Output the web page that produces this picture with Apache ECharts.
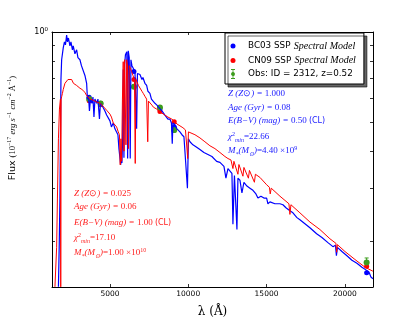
<!DOCTYPE html>
<html>
<head>
<meta charset="utf-8">
<script src="https://cdn.jsdelivr.net/npm/echarts@6/dist/echarts.min.js"></script>
<style>
html, body { margin: 0; padding: 0; background: #fff; }
#main { width: 415px; height: 323px; }
</style>
</head>
<body>
<div id="main"></div>
<script>
/*----------------------------- data -----------------------------*/
// BC03 SSP model spectrum (wavelength in A, flux)
var blueWave = [1711, 1762, 1807, 1839, 1871, 1916, 2018, 2095, 2159, 2235, 2286, 2350, 2446, 2510, 2605, 2656, 2765, 2873, 2956, 3084,
    3180, 3295, 3403, 3512, 3563, 3627, 3691, 3755, 3851, 3915, 3979, 4042, 4151, 4234, 4330, 4393, 4489, 4553, 4681, 4789,
    4872, 5000, 5096, 5211, 5319, 5428, 5511, 5575, 5639, 5684, 5722, 5766, 5811, 5849, 5894, 5939, 5990, 6079, 6130, 6169,
    6232, 6296, 6341, 6405, 6488, 6597, 6705, 6756, 6916, 7044, 7107, 7235, 7344, 7427, 7554, 7650, 7746, 7874, 8002, 8098,
    8193, 8321, 8404, 8512, 8621, 8704, 8832, 8928, 8979, 9023, 9151, 9279, 9470, 9598, 9726, 9853, 9949, 10013, 10109, 10300,
    10492, 10747, 11002, 11258, 11513, 11814, 12025, 12281, 12408, 12536, 12663, 12791, 12855, 12951, 13111, 13174, 13302, 13430, 13557, 13749,
    13940, 14132, 14324, 14451, 14643, 14834, 15007, 15090, 15218, 15537, 15857, 16048, 16240, 16495, 16687, 16943, 17133, 17453, 17772, 18200,
    18539, 18922, 19241, 19400, 19464, 19528, 19816, 20135, 20454, 20773, 21093, 21393, 21540, 21668, 21795];
var blueFlux = [0.141, 0.195, 0.279, 0.440, 0.694, 0.808, 0.885, 0.927, 0.906, 0.977, 0.927, 0.955, 0.899, 0.927, 0.872, 0.899, 0.846, 0.872, 0.821, 0.808,
    0.772, 0.761, 0.716, 0.674, 0.597, 0.615, 0.545, 0.597, 0.578, 0.606, 0.520, 0.597, 0.578, 0.597, 0.512, 0.578, 0.570, 0.561, 0.545, 0.528,
    0.520, 0.505, 0.482, 0.497, 0.475, 0.475, 0.454, 0.408, 0.380, 0.360, 0.400, 0.365, 0.440, 0.749, 0.380, 0.778, 0.840, 0.859, 0.378, 0.866,
    0.821, 0.378, 0.808, 0.772, 0.761, 0.738, 0.475, 0.727, 0.721, 0.694, 0.705, 0.674, 0.663, 0.634, 0.624, 0.597, 0.606, 0.578, 0.570, 0.561,
    0.561, 0.545, 0.553, 0.528, 0.520, 0.512, 0.512, 0.497, 0.424, 0.497, 0.490, 0.475, 0.464, 0.454, 0.447, 0.447, 0.301, 0.440, 0.430, 0.420,
    0.414, 0.405, 0.396, 0.390, 0.384, 0.370, 0.367, 0.356, 0.325, 0.350, 0.345, 0.337, 0.228, 0.332, 0.219, 0.325, 0.320, 0.290, 0.315, 0.306,
    0.301, 0.296, 0.288, 0.279, 0.283, 0.279, 0.279, 0.267, 0.271, 0.267, 0.267, 0.265, 0.259, 0.253, 0.249, 0.240, 0.236, 0.229, 0.222, 0.212,
    0.206, 0.198, 0.192, 0.194, 0.179, 0.191, 0.185, 0.179, 0.173, 0.169, 0.164, 0.160, 0.158, 0.152, 0.150];

// CN09 SSP model spectrum
var redWave = [1488, 1596, 1647, 1711, 1775, 1839, 1858, 1884, 1916, 1967, 2018, 2127, 2235, 2318, 2414, 2554, 2669, 2765, 2873, 2988,
    3084, 3212, 3295, 3403, 3499, 3614, 3723, 3819, 3934, 4042, 4170, 4266, 4361, 4489, 4617, 4789, 4904, 5000, 5096, 5211,
    5319, 5428, 5530, 5607, 5658, 5703, 5747, 5798, 5849, 5894, 5939, 5990, 6022, 6066, 6118, 6181, 6232, 6309, 6386, 6469,
    6565, 6616, 6660, 6705, 6820, 6916, 7044, 7127, 7235, 7344, 7414, 7459, 7554, 7682, 7778, 7874, 7982, 8098, 8193, 8321,
    8404, 8512, 8621, 8704, 8832, 8959, 9023, 9151, 9279, 9470, 9662, 9822, 9936, 9968, 10013, 10109, 10428, 10747, 11066, 11386,
    11705, 12025, 12344, 12536, 12727, 12855, 12919, 13174, 13238, 13493, 13557, 13844, 13908, 14227, 14291, 14579, 15007, 15186, 15237, 15301,
    15857, 16431, 16495, 16559, 17133, 17772, 18411, 19049, 19432, 19477, 19528, 20007, 20645, 21284, 21795];
var redFlux = [0.141, 0.191, 0.279, 0.440, 0.553, 0.597, 0.141, 0.597, 0.608, 0.624, 0.643, 0.674, 0.684, 0.694, 0.684, 0.694, 0.674, 0.684, 0.663, 0.663,
    0.649, 0.643, 0.634, 0.629, 0.615, 0.606, 0.597, 0.597, 0.592, 0.583, 0.583, 0.578, 0.578, 0.570, 0.561, 0.548, 0.540, 0.532, 0.520, 0.497,
    0.490, 0.482, 0.464, 0.454, 0.360, 0.440, 0.370, 0.597, 0.796, 0.400, 0.808, 0.796, 0.420, 0.808, 0.784, 0.408, 0.772, 0.761, 0.738, 0.716,
    0.694, 0.364, 0.694, 0.684, 0.663, 0.653, 0.634, 0.624, 0.610, 0.597, 0.430, 0.588, 0.583, 0.570, 0.561, 0.557, 0.553, 0.548, 0.540, 0.536,
    0.532, 0.528, 0.524, 0.520, 0.516, 0.512, 0.509, 0.501, 0.493, 0.486, 0.479, 0.471, 0.468, 0.378, 0.464, 0.461, 0.454, 0.443, 0.430, 0.417,
    0.408, 0.396, 0.384, 0.378, 0.374, 0.350, 0.370, 0.335, 0.361, 0.330, 0.353, 0.325, 0.345, 0.315, 0.335, 0.327, 0.309, 0.303, 0.288, 0.301,
    0.283, 0.267, 0.246, 0.265, 0.249, 0.232, 0.219, 0.204, 0.197, 0.184, 0.195, 0.185, 0.174, 0.164, 0.159];

// photometry: observed (with errors) and model fluxes
var obsWave = [3672, 4406, 6533, 8193, 9106, 21393];
var obsFlux = [0.597, 0.577, 0.657, 0.560, 0.471, 0.170];
var obsErr  = [0.008, 0.008, 0.008, 0.008, 0.008, 0.006];
var bcPhot  = [0.606, 0.578, 0.738, 0.553, 0.482, 0.157];
var cnPhot  = [0.590, 0.572, 0.694, 0.543, 0.502, 0.165];

var xTicks = [5000, 10000, 15000, 20000];
var yTicks = [0.2, 0.3, 0.4, 0.5, 0.6, 0.7, 0.8, 0.9, 1];

function zip(a, b) {
    var out = [];
    for (var i = 0; i < a.length; i++) out.push([a[i], b[i]]);
    return out;
}

var errData = [];
for (var i = 0; i < obsWave.length; i++) {
    errData.push([obsWave[i], obsFlux[i] - obsErr[i], obsFlux[i] + obsErr[i]]);
}

/*----------------------------- text blocks -----------------------------*/
var SERIF = 'Liberation Serif';
var SANS = 'DejaVu Sans';

function richSet(color) {
    return {
        i: { fontFamily: SERIF, fontStyle: 'italic', fontSize: 9, lineHeight: 12, fill: color },
        r: { fontFamily: SERIF, fontSize: 9, lineHeight: 12, fill: color },
        c: { fontFamily: SANS, fontSize: 8, lineHeight: 12, fill: color },
        s: { fontFamily: SERIF, fontSize: 6, verticalAlign: 'top', lineHeight: 12, fill: color },
        u: { fontFamily: SERIF, fontStyle: 'italic', fontSize: 6, verticalAlign: 'bottom', lineHeight: 12, fill: color }
    };
}

function textBlock(x, ys, lines, color) {
    var els = [];
    for (var k = 0; k < lines.length; k++) {
        els.push({
            type: 'text',
            x: x,
            y: ys[k],
            z: 10,
            style: {
                text: lines[k],
                verticalAlign: 'middle',
                rich: richSet(color)
            }
        });
    }
    return els;
}

var blueLines = [
    '{i|Z (Z}{r|⊙}{i|) = }{r|1.000}',
    '{i|Age (Gyr) = }{r|0.08}',
    '{i|E(B−V) (mag) = }{r|0.50 }{c|(CL)}',
    '{i|χ}{s|2}{u|min}{r|=22.66}',
    '{i|M}{u|*}{i|(M}{u|⊙}{i|)}{r|=4.40 ×10}{s|9}'
];
var redLines = [
    '{i|Z (Z}{r|⊙}{i|) = }{r|0.025}',
    '{i|Age (Gyr) = }{r|0.06}',
    '{i|E(B−V) (mag) = }{r|1.00 }{c|(CL)}',
    '{i|χ}{s|2}{u|min}{r|=17.10}',
    '{i|M}{u|*}{i|(M}{u|⊙}{i|)}{r|=1.00 ×10}{s|10}'
];

var graphics = []
    .concat(textBlock(228, [94, 108, 121, 137, 151], blueLines, '#2020ff'))
    .concat(textBlock(74, [194, 207, 223, 238, 253], redLines, '#ff2020'));

// y axis title, rotated
graphics.push({
    type: 'text',
    x: 13,
    y: 128,
    rotation: Math.PI / 2,
    style: {
        text: '{f|Flux }{r|(10}{s|−17}{i| erg s}{s|−1}{i| cm}{s|−2}{r| Å}{s|−1}{r|)}',
        align: 'center',
        verticalAlign: 'middle',
        rich: {
            f: { fontFamily: SANS, fontSize: 9.5, lineHeight: 13, fill: '#000' },
            r: { fontFamily: SERIF, fontSize: 8.5, lineHeight: 13, fill: '#000' },
            i: { fontFamily: SERIF, fontStyle: 'italic', fontSize: 8.5, lineHeight: 13, fill: '#000' },
            s: { fontFamily: SERIF, fontSize: 6, verticalAlign: 'top', lineHeight: 13, fill: '#000' }
        }
    }
});

/*----------------------------- chart -----------------------------*/
var myChart = echarts.init(document.getElementById('main'));

var tickStyle = { inside: true, length: 3, lineStyle: { color: '#000', width: 0.8 } };
var lineStyleAxis = { show: true, onZero: false, lineStyle: { color: '#000', width: 1 } };

var option = {
    animation: false,
    backgroundColor: '#fff',
    grid: { left: 52, right: 42, top: 32, bottom: 33 },
    legend: {
        orient: 'vertical',
        left: 225,
        top: 33,
        padding: [7, 8, 5, 3],
        itemWidth: 20,
        itemHeight: 10,
        itemGap: 2.5,
        backgroundColor: '#fff',
        borderColor: '#000',
        borderWidth: 1,
        borderRadius: 0,
        shadowColor: 'rgba(0,0,0,0.6)',
        shadowOffsetX: 3,
        shadowOffsetY: 3,
        shadowBlur: 0,
        data: [
            { name: 'BC03', icon: 'path://M0,0M10,10M7.5,5A2.5,2.5,0,1,1,2.5,5A2.5,2.5,0,1,1,7.5,5Z' },
            { name: 'CN09', icon: 'path://M0,0M10,10M7.5,5A2.5,2.5,0,1,1,2.5,5A2.5,2.5,0,1,1,7.5,5Z' },
            { name: 'Obs', icon: 'path://M3,0H7V1H5.4V2.9A2.2,2.2,0,0,1,5.4,7.1V9H7V10H3V9H4.6V7.1A2.2,2.2,0,0,1,4.6,2.9V1H3Z' }
        ],
        formatter: function (name) {
            if (name === 'BC03') return '{s|BC03 SSP} {i|Spectral Model}';
            if (name === 'CN09') return '{s|CN09 SSP} {i|Spectral Model}';
            return '{s|Obs: ID = 2312, z=0.52}';
        },
        textStyle: {
            rich: {
                s: { fontFamily: SANS, fontSize: 8.8, color: '#000', lineHeight: 10 },
                i: { fontFamily: SERIF, fontStyle: 'italic', fontSize: 10, color: '#000', lineHeight: 10 }
            }
        }
    },
    xAxis: [
        {
            type: 'value',
            min: 1300,
            max: 21800,
            position: 'bottom',
            name: 'λ (Å)',
            nameLocation: 'middle',
            nameGap: 19,
            nameTextStyle: { fontFamily: 'DejaVu Serif', fontSize: 12, color: '#000' },
            axisLine: lineStyleAxis,
            axisTick: echarts.util.extend({ customValues: xTicks }, tickStyle),
            axisLabel: {
                customValues: xTicks,
                fontFamily: SANS,
                fontSize: 7.5,
                color: '#000',
                margin: 3,
                formatter: function (v) { return String(v); }
            },
            splitLine: { show: false }
        },
        {
            type: 'value',
            min: 1300,
            max: 21800,
            position: 'top',
            axisLine: lineStyleAxis,
            axisTick: echarts.util.extend({ customValues: xTicks }, tickStyle),
            axisLabel: { show: false },
            splitLine: { show: false }
        }
    ],
    yAxis: [
        {
            type: 'log',
            logBase: 10,
            min: 0.1408,
            max: 1,
            position: 'left',
            axisLine: lineStyleAxis,
            axisTick: echarts.util.extend({ customValues: yTicks }, tickStyle),
            axisLabel: {
                customValues: [1],
                margin: 4,
                formatter: function () { return '{b|10}{s|0}'; },
                rich: {
                    b: { fontFamily: SANS, fontSize: 8, color: '#000', lineHeight: 11 },
                    s: { fontFamily: SANS, fontSize: 5.5, color: '#000', verticalAlign: 'top', lineHeight: 11 }
                }
            },
            splitLine: { show: false }
        },
        {
            type: 'log',
            logBase: 10,
            min: 0.1408,
            max: 1,
            position: 'right',
            axisLine: lineStyleAxis,
            axisTick: echarts.util.extend({ customValues: yTicks }, tickStyle),
            axisLabel: { show: false },
            splitLine: { show: false }
        }
    ],
    series: [
        {
            name: 'BC03 spectrum',
            type: 'line',
            data: zip(blueWave, blueFlux),
            showSymbol: false,
            lineStyle: { color: '#0000ff', width: 1.2 },
            itemStyle: { color: '#0000ff' },
            clip: true
        },
        {
            name: 'CN09 spectrum',
            type: 'line',
            data: zip(redWave, redFlux),
            showSymbol: false,
            lineStyle: { color: '#ff0000', width: 1 },
            itemStyle: { color: '#ff0000' },
            clip: true
        },
        {
            name: 'BC03',
            type: 'scatter',
            data: zip(obsWave, bcPhot),
            symbolSize: 5,
            itemStyle: { color: '#0000ff', opacity: 1 }
        },
        {
            name: 'CN09',
            type: 'scatter',
            data: zip(obsWave, cnPhot),
            symbolSize: 5,
            itemStyle: { color: '#ff0000', opacity: 1 }
        },
        {
            name: 'Obs',
            type: 'custom',
            data: errData,
            encode: { x: 0, y: [1, 2] },
            itemStyle: { color: '#3c9c1c' },
            renderItem: function (params, api) {
                var lo = api.coord([api.value(0), api.value(1)]);
                var hi = api.coord([api.value(0), api.value(2)]);
                var st = { stroke: '#3c9c1c', lineWidth: 1 };
                return {
                    type: 'group',
                    children: [
                        { type: 'line', shape: { x1: lo[0], y1: lo[1], x2: hi[0], y2: hi[1] }, style: st },
                        { type: 'line', shape: { x1: lo[0] - 2, y1: lo[1], x2: lo[0] + 2, y2: lo[1] }, style: st },
                        { type: 'line', shape: { x1: hi[0] - 2, y1: hi[1], x2: hi[0] + 2, y2: hi[1] }, style: st }
                    ]
                };
            }
        },
        {
            name: 'Obs',
            type: 'scatter',
            data: zip(obsWave, obsFlux),
            symbolSize: 6,
            itemStyle: { color: '#3c9c1c', opacity: 1 }
        }
    ],
    graphic: graphics
};

myChart.setOption(option);
</script>
</body>
</html>
